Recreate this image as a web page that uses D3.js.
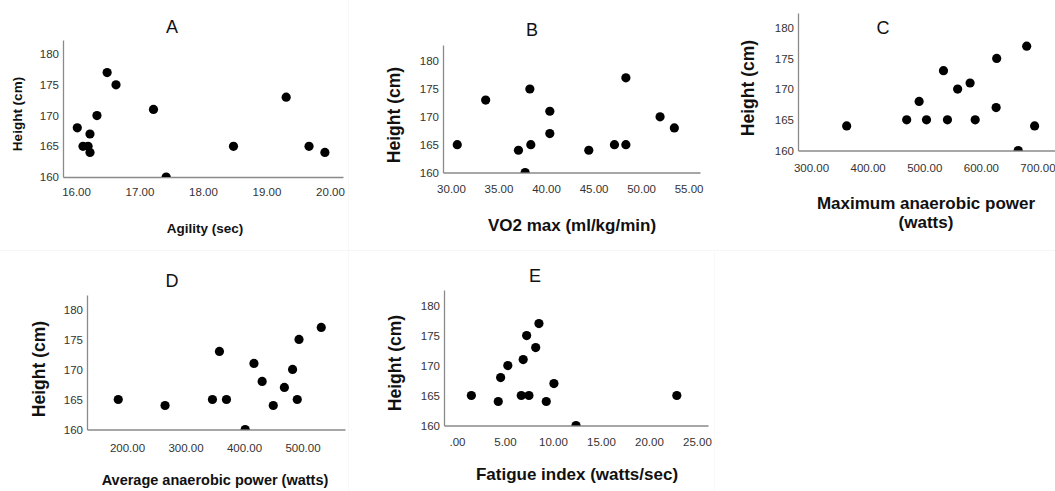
<!DOCTYPE html>
<html>
<head>
<meta charset="utf-8">
<script src="https://cdn.jsdelivr.net/npm/d3@7"></script>
<style>
  body { margin: 0; background: #fff; }
  svg { display: block; font-family: "Liberation Sans", Arial, sans-serif; }
  .axis { color: #333; }
  .axis path { stroke: #8a8a8a; stroke-width: 1.3; }
  .axis text { fill: #333; font-size: 11.5px; font-family: "Liberation Sans", Arial, sans-serif; }
  .dot { fill: #000; }
  .ttl { font-size: 18px; fill: #111; text-anchor: middle; }
  .lab { font-weight: bold; fill: #111; text-anchor: middle; }
</style>
</head>
<body>
<script>
"use strict";

var width = 1055, height = 491;

// data
var heightTicks = [160, 165, 170, 175, 180];

var agility = [16.02, 16.49, 16.63, 16.33, 17.22, 16.22, 16.11, 16.19, 16.22, 17.42, 18.48, 19.31, 19.67, 19.92];
var agilityHeight = [168, 177, 175, 170, 171, 167, 165, 165, 164, 160, 165, 173, 165, 164];
var agilityTicks = [16, 17, 18, 19, 20];

var vo2 = [30.66, 33.65, 37.1, 37.8, 38.3, 38.4, 40.4, 40.4, 44.5, 47.2, 48.4, 48.4, 52.0, 53.5];
var vo2Height = [165, 173, 164, 160, 175, 165, 171, 167, 164, 165, 177, 165, 170, 168];
var vo2Ticks = [30, 35, 40, 45, 50, 55];

var maxPower = [363, 469, 491, 504, 534, 541, 559, 581, 590, 628, 627, 666, 681, 695];
var maxPowerHeight = [164, 165, 168, 165, 173, 165, 170, 171, 165, 175, 167, 160, 177, 164];
var maxPowerTicks = [300, 400, 500, 600, 700];

var avgPower = [185, 265, 346, 358, 370, 402, 417, 431, 450, 469, 483, 491, 494, 532];
var avgPowerHeight = [165, 164, 165, 173, 165, 160, 171, 168, 164, 167, 170, 165, 175, 177];
var avgPowerTicks = [200, 300, 400, 500];

var fatigue = [1.5, 4.3, 4.55, 5.3, 6.7, 6.9, 7.26, 7.5, 8.2, 8.54, 9.3, 10.1, 12.4, 22.9];
var fatigueHeight = [165, 164, 168, 170, 165, 171, 175, 165, 173, 177, 164, 167, 160, 165];
var fatigueTicks = [0, 5, 10, 15, 20, 25];

var panels = [
  { id: "A", xs: agility, ys: agilityHeight, ticks: agilityTicks,
    L: 63, R: 343, B: 177, T: 40, xd: [15.795, 20.205], yTop: 182.3,
    title: [172, 33], xLab: ["Agility (sec)"], xLabPos: [205, 233], xLabSize: 13.5,
    yLabPos: [22, 114], yLabSize: 13.5, pad: 11 },
  { id: "B", xs: vo2, ys: vo2Height, ticks: vo2Ticks,
    L: 443, R: 700, B: 172.5, T: 45, xd: [29.16, 56.2], yTop: 182.9,
    title: [532, 36], xLab: ["VO2 max (ml/kg/min)"], xLabPos: [572, 231], xLabSize: 17,
    yLabPos: [400, 115], yLabSize: 17.5, pad: 12.5 },
  { id: "C", xs: maxPower, ys: maxPowerHeight, ticks: maxPowerTicks,
    L: 798, R: 1055, B: 150.5, T: 13, xd: [277, 731], yTop: 182.4,
    title: [883, 34], xLab: ["Maximum anaerobic power", "(watts)"], xLabPos: [926, 209], xLabSize: 17,
    yLabPos: [754, 88], yLabSize: 17.5, pad: 13 },
  { id: "D", xs: avgPower, ys: avgPowerHeight, ticks: avgPowerTicks,
    L: 87, R: 345, B: 429.5, T: 295, xd: [131.6, 572.6], yTop: 182.4,
    title: [172, 287], xLab: ["Average anaerobic power (watts)"], xLabPos: [215, 485], xLabSize: 14.5,
    yLabPos: [45, 369], yLabSize: 17.5, pad: 14 },
  { id: "E", xs: fatigue, ys: fatigueHeight, ticks: fatigueTicks,
    L: 444, R: 708, B: 425.5, T: 290, xd: [-1.35, 26.15], yTop: 182.6,
    title: [535, 282], xLab: ["Fatigue index (watts/sec)"], xLabPos: [577, 480], xLabSize: 17,
    yLabPos: [401, 363], yLabSize: 17.5, pad: 12 }
];

var svg = d3.select("body").append("svg")
  .attr("width", width)
  .attr("height", height);

// faint seams between the pasted panels
svg.append("line").attr("x1", 0).attr("x2", width).attr("y1", 250.5).attr("y2", 250.5)
  .attr("stroke", "#f6f6f6");
svg.append("line").attr("x1", 348.5).attr("x2", 348.5).attr("y1", 0).attr("y2", height)
  .attr("stroke", "#f8f8f8");
svg.append("line").attr("x1", 714.5).attr("x2", 714.5).attr("y1", 250).attr("y2", height)
  .attr("stroke", "#f8f8f8");

function spssFormat(v) {
  var s = d3.format(".2f")(v);
  return s === "0.00" ? ".00" : s;
}

panels.forEach(function(p) {
  var x = d3.scaleLinear().domain(p.xd).range([p.L, p.R]);
  var y = d3.scaleLinear().domain([160, p.yTop]).range([p.B, p.T]);
  var g = svg.append("g");

  g.append("clipPath").attr("id", "clip" + p.id)
    .append("rect")
    .attr("x", p.L).attr("y", p.T)
    .attr("width", p.R - p.L).attr("height", p.B - p.T);

  g.append("g")
    .attr("class", "axis")
    .attr("transform", "translate(0," + p.B + ")")
    .call(d3.axisBottom(x).tickValues(p.ticks).tickSize(0).tickPadding(p.pad).tickFormat(spssFormat));

  g.append("g")
    .attr("class", "axis")
    .attr("transform", "translate(" + p.L + ",0)")
    .call(d3.axisLeft(y).tickValues(heightTicks).tickSize(0).tickPadding(4).tickFormat(d3.format("d")));

  g.selectAll(".axis .domain").attr("fill", "none");

  g.append("g")
    .attr("clip-path", "url(#clip" + p.id + ")")
    .selectAll("circle")
    .data(p.xs)
    .join("circle")
    .attr("class", "dot")
    .attr("cx", function(d) { return x(d); })
    .attr("cy", function(d, i) { return y(p.ys[i]); })
    .attr("r", 4.6);

  g.append("text")
    .attr("class", "ttl")
    .attr("x", p.title[0])
    .attr("y", p.title[1])
    .text(p.id);

  p.xLab.forEach(function(t, i) {
    g.append("text")
      .attr("class", "lab")
      .attr("x", p.xLabPos[0])
      .attr("y", p.xLabPos[1] + i * 19)
      .style("font-size", p.xLabSize + "px")
      .text(t);
  });

  g.append("text")
    .attr("class", "lab")
    .attr("transform", "translate(" + p.yLabPos[0] + "," + p.yLabPos[1] + ") rotate(-90)")
    .style("font-size", p.yLabSize + "px")
    .text("Height (cm)");
});
</script>
</body>
</html>
